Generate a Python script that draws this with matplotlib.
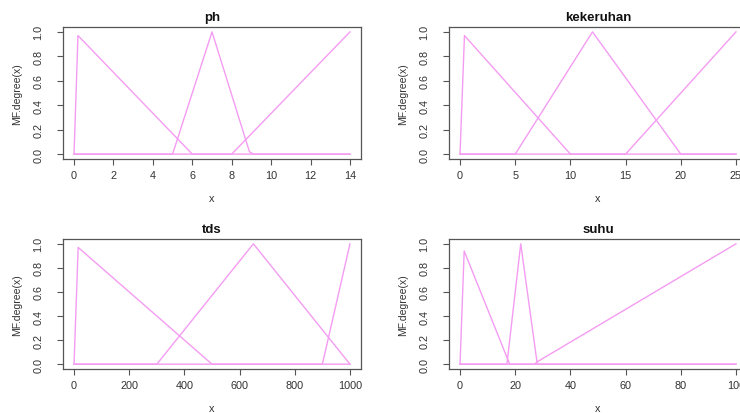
import matplotlib

matplotlib.use("Agg")
import matplotlib.pyplot as plt

plt.rcParams["font.family"] = ["Liberation Sans", "DejaVu Sans"]

# membership functions, one list of (x, y) polylines per variable
PH_X = [[0, 0.2, 6, 14], [0, 5, 7, 8.9, 9.1, 14], [0, 8, 14]]
PH_Y = [[0, 0.97, 0, 0], [0, 0, 1, 0.02, 0, 0], [0, 0, 1]]

KEK_X = [[0, 0.4, 10, 25], [0, 5, 12, 20, 25], [0, 15, 25]]
KEK_Y = [[0, 0.97, 0, 0], [0, 0, 1, 0, 0], [0, 0, 1]]

TDS_X = [[0, 15, 500, 1000], [0, 300, 650, 1000], [0, 900, 1000]]
TDS_Y = [[0, 0.97, 0, 0], [0, 0, 1, 0], [0, 0, 1]]

SUHU_X = [[0, 1.5, 18, 100], [0, 17, 22, 28, 100], [0, 27, 28, 100]]
SUHU_Y = [[0, 0.94, 0, 0], [0, 0, 1, 0, 0], [0, 0, 0.02, 1]]

PANELS = [
    ("ph", PH_X, PH_Y, 14, [0, 2, 4, 6, 8, 10, 12, 14]),
    ("kekeruhan", KEK_X, KEK_Y, 25, [0, 5, 10, 15, 20, 25]),
    ("tds", TDS_X, TDS_Y, 1000, [0, 200, 400, 600, 800, 1000]),
    ("suhu", SUHU_X, SUHU_Y, 100, [0, 20, 40, 60, 80, 100]),
]

W, H = 740, 414
# axes boxes in pixels: left, top, width, height
BOXES = [(63, 28, 298, 132), (449, 28, 298, 132),
         (63, 240, 298, 130), (449, 240, 298, 130)]

LINE = "#f49cf2"
FRAME = "#555555"
TXT = "#333333"

fig = plt.figure(figsize=(W / 100, H / 100), dpi=100)

for (title, xs, ys, xmax, ticks), (l, t, w, h) in zip(PANELS, BOXES):
    ax = fig.add_axes([l / W, 1 - (t + h) / H, w / W, h / H])
    for x, y in zip(xs, ys):
        ax.plot(x, y, color=LINE, linewidth=1.0)
    pad = 0.04 * xmax
    ax.set_xlim(-pad, xmax + pad)
    ax.set_ylim(-0.04, 1.04)
    ax.set_xticks(ticks)
    ax.set_yticks([0, 0.2, 0.4, 0.6, 0.8, 1.0])
    ax.set_yticklabels(["0.0", "0.2", "0.4", "0.6", "0.8", "1.0"],
                       rotation=90, va="center")
    ax.tick_params(direction="out", length=4, width=0.8, color=FRAME,
                   labelsize=7.8, labelcolor=TXT)
    ax.tick_params(axis="x", pad=4)
    ax.tick_params(axis="y", pad=10)
    for s in ax.spines.values():
        s.set_color(FRAME)
        s.set_linewidth(0.9)
    ax.set_title(title, fontsize=9.5, fontweight="bold", pad=5, color="#111111")
    ax.set_xlabel("x", fontsize=7.8, color=TXT, labelpad=9)
    ax.set_ylabel("MF.degree(x)", fontsize=7.5, color=TXT, labelpad=8)

fig.savefig("out.png", dpi=100)
